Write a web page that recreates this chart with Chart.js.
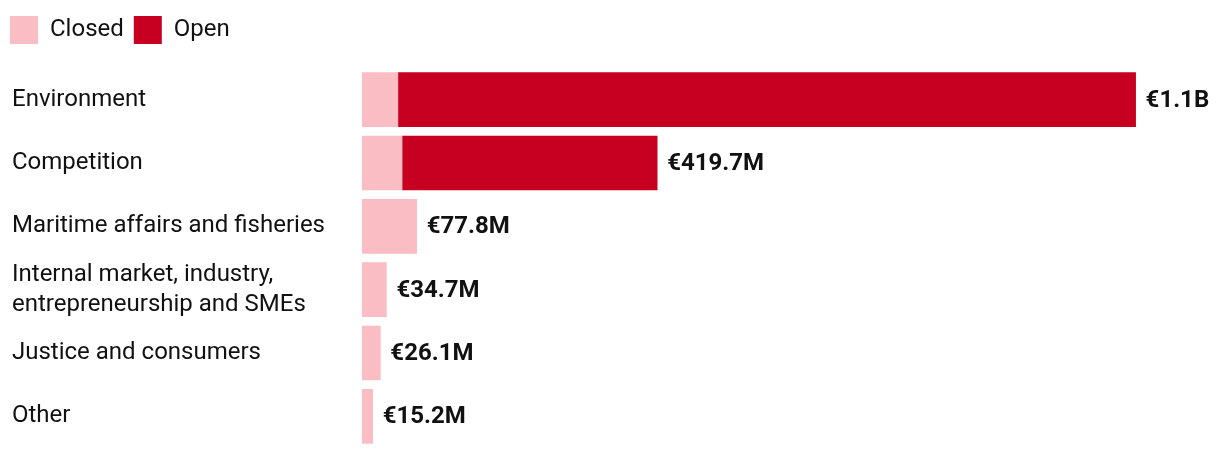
<!DOCTYPE html>
<html>
<head>
<meta charset="utf-8">
<script src="https://cdn.jsdelivr.net/npm/chart.js@4"></script>
<style>
  html, body { margin: 0; padding: 0; background: #fff; }
  #wrap { width: 1220px; height: 456px; }
</style>
</head>
<body>
<div id="wrap"><canvas id="infringementChart"></canvas></div>
<script>
// Data (millions of euro)
const categories = [
    'Environment',
    'Competition',
    'Maritime affairs and fisheries',
    ['Internal market, industry,', 'entrepreneurship and SMEs'],
    'Justice and consumers',
    'Other'
];
const closedValues = [51, 57, 77.8, 34.7, 26.1, 15.2];
const openValues = [1049, 362.7, null, null, null, null];

const formatEuro = (v) => v >= 1000 ? '€' + (v / 1000).toFixed(1) + 'B' : '€' + v.toFixed(1) + 'M';

// Total labels at the end of each bar
const totalLabels = {
    id: 'totalLabels',
    afterDatasetsDraw(chart) {
        const ctx = chart.ctx;
        const xScale = chart.scales.x;
        const yScale = chart.scales.y;
        ctx.save();
        ctx.font = "bold 24px Roboto";
        ctx.fillStyle = '#111';
        ctx.textAlign = 'left';
        ctx.textBaseline = 'middle';
        categories.forEach((c, i) => {
            const total = closedValues[i] + (openValues[i] || 0);
            ctx.fillText(formatEuro(total), xScale.getPixelForValue(total) + 10, yScale.getPixelForValue(i) + 1);
        });
        ctx.restore();
    }
};

// move category labels in from the canvas edge
const labelOffset = {
    id: 'labelOffset',
    afterLayout(chart) {
        chart.scales.y.left = 12;
    }
};

new Chart(document.getElementById('infringementChart'), {
    type: 'bar',
    data: {
        labels: categories,
        datasets: [
            { label: 'Closed', data: closedValues, backgroundColor: '#fabdc4', barThickness: 54 },
            { label: 'Open', data: openValues, backgroundColor: '#c70021', barThickness: 54 }
        ]
    },
    options: {
        indexAxis: 'y',
        responsive: true,
        maintainAspectRatio: false,
        animation: false,
        layout: { padding: { top: 6, bottom: 8, left: 0, right: 0 } },
        plugins: {
            legend: {
                position: 'top',
                align: 'start',
                labels: {
                    boxWidth: 28,
                    boxHeight: 28,
                    padding: 10,
                    color: '#111',
                    font: { family: 'Roboto', size: 24 }
                }
            },
            tooltip: { enabled: false }
        },
        scales: {
            x: {
                stacked: true,
                position: 'top',
                min: 0,
                max: 1220,
                grid: { display: false },
                border: { display: false },
                ticks: { display: false },
                afterFit: (scale) => { scale.height = 14; }
            },
            y: {
                stacked: true,
                grid: { display: false },
                border: { display: false },
                ticks: {
                    autoSkip: false,
                    crossAlign: 'far',
                    color: '#111',
                    font: { family: 'Roboto', size: 24, lineHeight: 1.25 }
                },
                afterFit: (scale) => {
                    scale.width = 362;
                    scale.paddingTop = 0;
                    scale.paddingBottom = 0;
                }
            }
        }
    },
    plugins: [totalLabels, labelOffset]
});
</script>
</body>
</html>
